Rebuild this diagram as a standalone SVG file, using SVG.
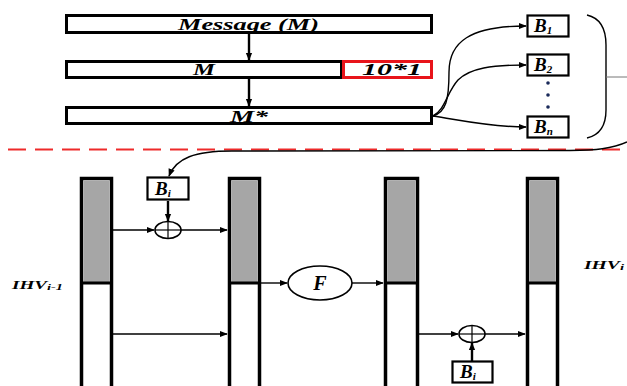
<svg xmlns="http://www.w3.org/2000/svg" width="627" height="386" viewBox="0 0 627 386">
<defs>
<style>
.box{fill:#fff;stroke:#000;stroke-width:3}
.sbox{fill:#fff;stroke:#000;stroke-width:2.2}
.lbl{font-family:"Liberation Serif","Times New Roman",serif;font-weight:bold;font-style:italic;fill:#000}
.bl{font-size:19px}
.sub{font-size:11px}
.ln{fill:none;stroke:#000;stroke-width:1.4}
.thk{fill:none;stroke:#000;stroke-width:2.4}
.bar{fill:#fff;stroke:#000;stroke-width:3.5}
.gray{fill:#a6a6a6}
.xor{fill:#fff;stroke:#000;stroke-width:1.6}
</style>
<marker id="ah" viewBox="0 0 10 10" refX="9" refY="5" markerWidth="8" markerHeight="8" markerUnits="userSpaceOnUse" orient="auto">
<path d="M0 1 L10 5 L0 9 Z" fill="#000"/>
</marker>
</defs>

<!-- separator -->
<line x1="8" y1="149.5" x2="627" y2="149.5" stroke="#ee2a2a" stroke-width="2" stroke-dasharray="18 9"/>

<g id="message">
<rect class="box" x="66.5" y="15.5" width="365" height="17"/>
<text class="lbl" x="178" y="30" font-size="17" textLength="141" lengthAdjust="spacingAndGlyphs">Message (M)</text>
</g>
<g id="m">
<rect class="box" x="66.5" y="61.5" width="275" height="16"/>
<text class="lbl" x="193" y="75" font-size="17" textLength="22" lengthAdjust="spacingAndGlyphs">M</text>
</g>
<g id="pad">
<rect x="343.5" y="61.5" width="88" height="16" fill="#fff" stroke="#e8141a" stroke-width="3"/>
<text class="lbl" x="362" y="75" font-size="17" textLength="60" lengthAdjust="spacingAndGlyphs">10*1</text>
</g>
<g id="mstar">
<rect class="box" x="66.5" y="107.5" width="365" height="16"/>
<text class="lbl" x="230" y="122" font-size="17" textLength="38" lengthAdjust="spacingAndGlyphs">M*</text>
</g>

<g id="b1">
<rect class="sbox" x="527.5" y="15.5" width="41" height="21"/>
<text class="lbl bl" x="534" y="32">B<tspan class="sub" dy="2">1</tspan></text>
</g>
<g id="b2">
<rect class="sbox" x="527.5" y="54.5" width="41" height="21"/>
<text class="lbl bl" x="534" y="71">B<tspan class="sub" dy="2">2</tspan></text>
</g>
<g id="dots">
<circle cx="548" cy="83" r="1.8" fill="#1a2a5a"/>
<circle cx="548" cy="95" r="1.8" fill="#1a2a5a"/>
<circle cx="548" cy="107" r="1.8" fill="#1a2a5a"/>
</g>
<g id="bn">
<rect class="sbox" x="527.5" y="116.5" width="41" height="21"/>
<text class="lbl bl" x="534" y="133">B<tspan class="sub" dy="2">n</tspan></text>
</g>
<g id="brace">
<path class="ln" d="M587 15 C600 18 606 28 606 45 L606 110 C606 126 600 135 587 138" stroke-width="1.8"/>
<line x1="606" y1="77" x2="627" y2="77" stroke="#777" stroke-width="1"/>
</g>

<!-- bottom -->
<g id="bar1">
<rect class="bar" x="81.5" y="178.5" width="30" height="212"/>
<rect class="gray" x="83.5" y="180.5" width="26" height="102"/>
<line x1="81" y1="283" x2="112" y2="283" stroke="#000" stroke-width="3"/>
</g>
<g id="bar2">
<rect class="bar" x="229.5" y="178.5" width="30" height="212"/>
<rect class="gray" x="231.5" y="180.5" width="26" height="102"/>
<line x1="229" y1="283" x2="260" y2="283" stroke="#000" stroke-width="3"/>
</g>
<g id="bar3">
<rect class="bar" x="385.5" y="178.5" width="32" height="212"/>
<rect class="gray" x="387.5" y="180.5" width="28" height="102"/>
<line x1="385" y1="283" x2="418" y2="283" stroke="#000" stroke-width="3"/>
</g>
<g id="bar4">
<rect class="bar" x="527.5" y="178.5" width="30" height="212"/>
<rect class="gray" x="529.5" y="180.5" width="26" height="102"/>
<line x1="527" y1="283" x2="558" y2="283" stroke="#000" stroke-width="3"/>
</g>

<g id="bi-top">
<rect class="sbox" x="147.5" y="177.5" width="41" height="22"/>
<text class="lbl bl" x="155" y="195">B<tspan class="sub" dy="2">i</tspan></text>
</g>
<g id="xor-top">
<ellipse class="xor" cx="168" cy="230" rx="13" ry="8.5"/>
<line x1="155" y1="230" x2="181" y2="230" stroke="#000" stroke-width="1.2"/>
<line x1="168" y1="221.5" x2="168" y2="238.5" stroke="#000" stroke-width="1.2"/>
</g>
<g id="f">
<ellipse class="xor" cx="320" cy="283" rx="32" ry="17" stroke-width="2"/>
<text class="lbl" x="320" y="290" font-size="20" text-anchor="middle">F</text>
</g>
<g id="xor-bot">
<ellipse class="xor" cx="472" cy="334" rx="13" ry="8.5"/>
<line x1="459" y1="334" x2="485" y2="334" stroke="#000" stroke-width="1.2"/>
<line x1="472" y1="325.5" x2="472" y2="342.5" stroke="#000" stroke-width="1.2"/>
</g>
<g id="bi-bot">
<rect class="sbox" x="452.5" y="361.5" width="40" height="21"/>
<text class="lbl bl" x="460" y="378">B<tspan class="sub" dy="2">i</tspan></text>
</g>
<g id="ihv-prev">
<text class="lbl" x="12" y="289" font-size="12" textLength="51" lengthAdjust="spacingAndGlyphs">IHV<tspan font-size="9" dy="1">i-1</tspan></text>
</g>
<g id="ihv-i">
<text class="lbl" x="584" y="269" font-size="12" textLength="40" lengthAdjust="spacingAndGlyphs">IHV<tspan font-size="9" dy="1">i</tspan></text>
</g>

<g id="connectors">
<line class="thk" x1="249" y1="34" x2="249" y2="60" marker-end="url(#ah)"/>
<line class="thk" x1="249" y1="79" x2="249" y2="106" marker-end="url(#ah)"/>
<path class="ln" d="M433 116 C446 112 449 100 449 72 C449 42 470 26 526 26" marker-end="url(#ah)"/>
<path class="ln" d="M433 116 C445 110 447 92 458 80 C470 68 492 65 526 65" marker-end="url(#ah)"/>
<path class="ln" d="M433 116 C460 120 490 127 526 127" marker-end="url(#ah)"/>
<path class="ln" d="M627 142 C612 149 595 150 570 150.5 L232 151 C195 151 176 158 169 176" stroke="#333" marker-end="url(#ah)"/>
<line class="thk" x1="168" y1="201" x2="168" y2="221" marker-end="url(#ah)"/>
<line class="ln" x1="113" y1="230" x2="154" y2="230" marker-end="url(#ah)"/>
<line class="ln" x1="181" y1="230" x2="227" y2="230" marker-end="url(#ah)"/>
<line class="ln" x1="113" y1="334" x2="227" y2="334" marker-end="url(#ah)"/>
<line class="ln" x1="261" y1="283" x2="287" y2="283" marker-end="url(#ah)"/>
<line class="ln" x1="352" y1="283" x2="383" y2="283" marker-end="url(#ah)"/>
<line class="ln" x1="419" y1="334" x2="458" y2="334" marker-end="url(#ah)"/>
<line class="ln" x1="485" y1="334" x2="525" y2="334" marker-end="url(#ah)"/>
<line class="thk" x1="472" y1="361" x2="472" y2="343" marker-end="url(#ah)"/>
</g>
</svg>
